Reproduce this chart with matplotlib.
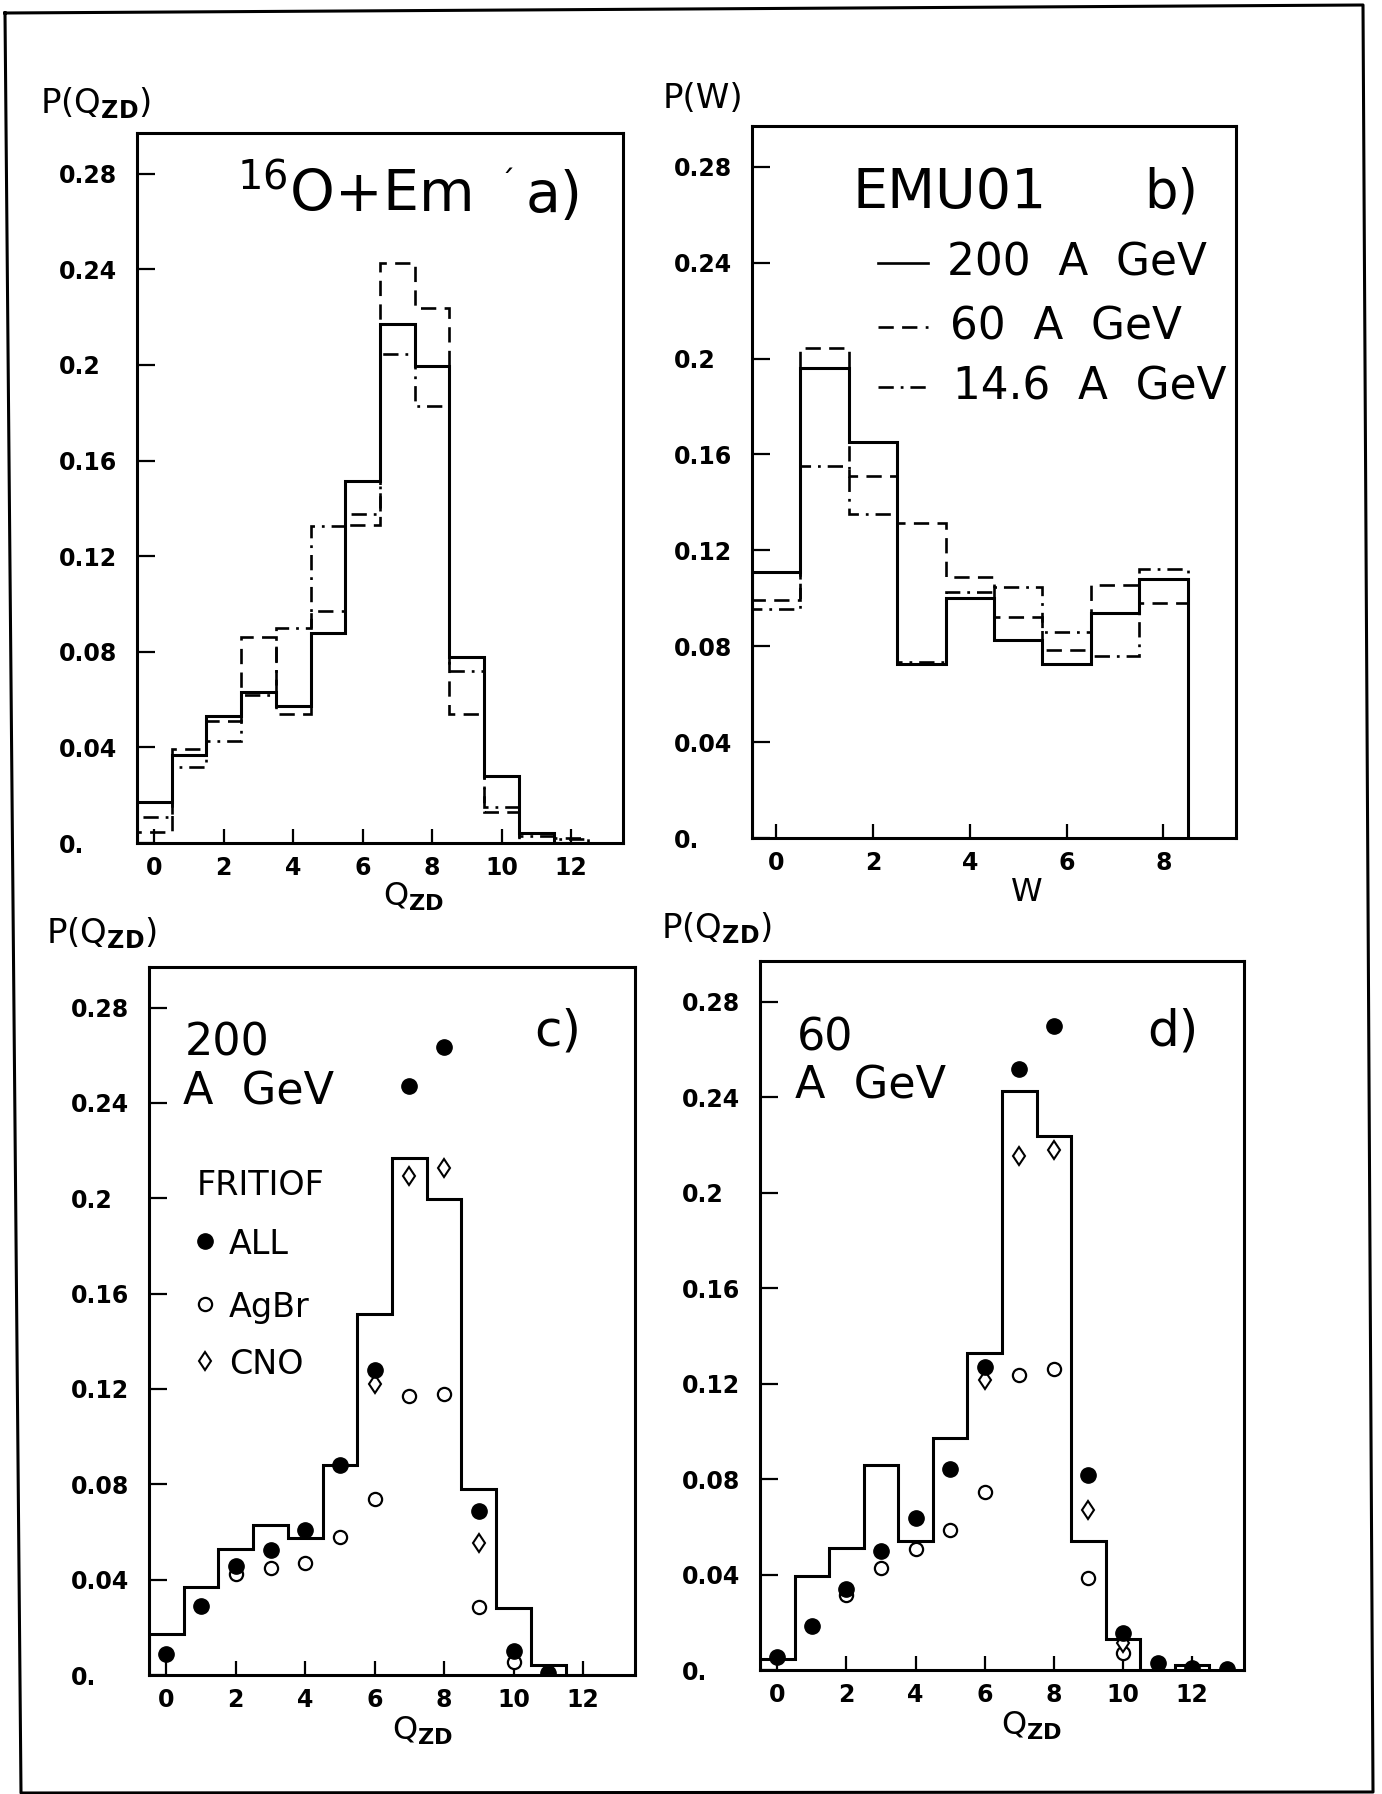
"""Charge-asymmetry distributions P(Q_ZD) and P(W) for 16O+Em, EMU01 data vs FRITIOF."""

import matplotlib

matplotlib.use("Agg")
import matplotlib.pyplot as plt
import numpy as np
from matplotlib.lines import Line2D

W_PX, H_PX = 1382, 1794

# experimental histograms, one value per integer bin
Q_VALUES = np.arange(13)
EXP_200 = [0.017, 0.037, 0.053, 0.063, 0.0575, 0.088, 0.1515, 0.217, 0.1995, 0.078, 0.028, 0.004, 0.0]
EXP_60 = [0.0045, 0.0395, 0.051, 0.086, 0.054, 0.097, 0.133, 0.2425, 0.2237, 0.054, 0.013, 0.0, 0.0022]
EXP_14 = [0.011, 0.032, 0.0428, 0.062, 0.090, 0.1325, 0.1377, 0.2045, 0.183, 0.072, 0.015, 0.003, 0.0015]

W_VALUES = np.arange(9)
W_200 = [0.111, 0.196, 0.165, 0.0725, 0.100, 0.0825, 0.0724, 0.0938, 0.108]
W_60 = [0.0994, 0.2043, 0.151, 0.1316, 0.109, 0.092, 0.0785, 0.1054, 0.098]
W_14 = [0.0955, 0.1552, 0.135, 0.0735, 0.1028, 0.1045, 0.086, 0.0759, 0.1122]

# FRITIOF points (nan where the point is hidden under another marker)
nan = np.nan
Q_FRIT_200 = np.arange(12)
ALL_200 = [0.0086, 0.0288, 0.0459, 0.0525, 0.0608, 0.088, 0.128, 0.247, 0.2636, 0.069, 0.0102, 0.001]
AGBR_200 = [nan, nan, 0.0423, 0.0447, 0.047, 0.0578, 0.074, 0.117, 0.1177, 0.0285, 0.0055, nan]
CNO_200 = [nan, nan, nan, nan, nan, nan, 0.122, 0.2094, 0.2128, 0.0554, nan, nan]

Q_FRIT_60 = np.arange(14)
ALL_60 = [0.0055, 0.0185, 0.034, 0.0498, 0.0635, 0.0844, 0.1268, 0.2516, 0.2696, 0.0818, 0.0154, 0.003, 0.0007, 0.0003]
AGBR_60 = [nan, nan, 0.0315, 0.0427, 0.0505, 0.0588, 0.0747, 0.1235, 0.1259, 0.0386, 0.0073, nan, nan, nan]
CNO_60 = [nan, nan, nan, nan, nan, nan, 0.1216, 0.2153, 0.2177, 0.0671, 0.0114, nan, nan, nan]

Y_TICKS = [0.0, 0.04, 0.08, 0.12, 0.16, 0.2, 0.24, 0.28]
Y_TICK_LABELS = ["0.", "0.04", "0.08", "0.12", "0.16", "0.2", "0.24", "0.28"]

SOLID = "-"
DASHED = (0, (11, 6))
DASHDOT = (0, (11, 5, 2, 5))

ALL_STYLE = dict(marker="o", ms=11, color="black")
AGBR_STYLE = dict(marker="o", ms=9.5, mfc="white", mec="black", mew=1.6)
CNO_STYLE = dict(marker="d", ms=9.5, mfc="white", mec="black", mew=1.5)

plt.rcParams.update({
    "font.family": ["DejaVu Sans"],
    "mathtext.fontset": "dejavusans",
    "lines.scale_dashes": False,
    "axes.linewidth": 2.2,
})

fig = plt.figure(figsize=(W_PX / 100, H_PX / 100), dpi=100)


def fx(x):
    return x / W_PX


def fy(y):
    return 1 - y / H_PX


def add_panel(left, top, right, bottom):
    return fig.add_axes([fx(left), fy(bottom), (right - left) / W_PX, (bottom - top) / H_PX])


def style_axes(ax, xmax, xticks):
    ax.set_xlim(-0.5, xmax)
    ax.set_ylim(0, 0.297)
    ax.set_xticks(xticks)
    ax.set_yticks(Y_TICKS, Y_TICK_LABELS)
    ax.tick_params(direction="in", width=1.6, labelsize=17, top=False, right=False)
    ax.tick_params(axis="x", length=10, pad=9)
    ax.tick_params(axis="y", length=13, pad=56)
    for lab in ax.get_xticklabels() + ax.get_yticklabels():
        lab.set_fontweight("bold")
    for lab in ax.get_yticklabels():
        lab.set_horizontalalignment("left")


def hist(ax, x, values, ls, lw):
    edges = np.append(np.asarray(x) - 0.5, x[-1] + 0.5)
    ax.stairs(values, edges, baseline=0, fill=False, color="black", linestyle=ls, linewidth=lw)


def points(ax, x, allv, agbr, cno):
    ax.plot(x, agbr, linestyle="none", zorder=3, **AGBR_STYLE)
    ax.plot(x, cno, linestyle="none", zorder=3, **CNO_STYLE)
    ax.plot(x, allv, linestyle="none", zorder=4, **ALL_STYLE)


def label(x, y, text, size, **kw):
    fig.text(fx(x), fy(y), text, fontsize=size, va="baseline", **kw)


ylabel_q = r"P(Q$_{\mathbf{ZD}}$)"
xlabel_q = r"Q$_{\mathbf{ZD}}$"

# a) three energies, Q_ZD
ax_a = add_panel(137, 133, 623, 843)
hist(ax_a, Q_VALUES, EXP_200, SOLID, 2.2)
hist(ax_a, Q_VALUES, EXP_60, DASHED, 1.9)
hist(ax_a, Q_VALUES, EXP_14, DASHDOT, 1.9)
style_axes(ax_a, 13.5, range(0, 13, 2))
label(40, 113, ylabel_q, 24.5)
label(414, 906, xlabel_q, 23, ha="center")
label(237, 212, r"$^{16}$O+Em", 41)
label(499, 192, "´", 22)
label(526, 212, "a)", 41)

# b) three energies, W
ax_b = add_panel(752, 126, 1236, 838)
hist(ax_b, W_VALUES, W_200, SOLID, 2.2)
hist(ax_b, W_VALUES, W_60, DASHED, 1.9)
hist(ax_b, W_VALUES, W_14, DASHDOT, 1.9)
style_axes(ax_b, 9.5, range(0, 9, 2))
label(663, 108, "P(W)", 24.5)
label(1027, 901, "W", 23, ha="center")
label(852, 208, "EMU01", 40)
label(1144, 208, "b)", 38)
for y, ls, txt, x0 in [(263, SOLID, "200  A  GeV", 947), (327, DASHED, "60  A  GeV", 950),
                       (387, DASHDOT, "14.6  A  GeV", 953)]:
    fig.add_artist(Line2D([fx(878), fx(928)], [fy(y), fy(y)], color="black", lw=1.9, linestyle=ls))
    label(x0, y + 12, txt, 31.5)

# c) 200 A GeV vs FRITIOF
ax_c = add_panel(149, 967, 635, 1675)
hist(ax_c, Q_VALUES, EXP_200, SOLID, 2.2)
points(ax_c, Q_FRIT_200, ALL_200, AGBR_200, CNO_200)
style_axes(ax_c, 13.5, range(0, 13, 2))
label(46, 943, ylabel_q, 24.5)
label(423, 1740, xlabel_q, 23, ha="center")
label(185, 1055, "200", 32)
label(183, 1104, "A  GeV", 32)
label(534, 1045, "c)", 36)
label(197, 1195, "FRITIOF", 24)
for y, name, style in [(1241, "ALL", ALL_STYLE), (1304, "AgBr", AGBR_STYLE), (1361, "CNO", CNO_STYLE)]:
    fig.add_artist(Line2D([fx(205)], [fy(y)], linestyle="none", **style))
    label(229, y + 13, name, 24)

# d) 60 A GeV vs FRITIOF
ax_d = add_panel(760, 961, 1244, 1670)
hist(ax_d, Q_VALUES, EXP_60, SOLID, 2.2)
points(ax_d, Q_FRIT_60, ALL_60, AGBR_60, CNO_60)
style_axes(ax_d, 13.5, range(0, 13, 2))
label(661, 938, ylabel_q, 24.5)
label(1032, 1735, xlabel_q, 23, ha="center")
label(797, 1050, "60", 32)
label(795, 1098, "A  GeV", 32)
label(1147, 1045, "d)", 36)

# outer frame of the scanned page
frame_x = [5, 1363, 1373, 21, 5]
frame_y = [13, 5, 1792, 1793, 13]
fig.add_artist(Line2D([fx(v) for v in frame_x], [fy(v) for v in frame_y], color="black", lw=2.2))

fig.savefig("out.png", dpi=100)
